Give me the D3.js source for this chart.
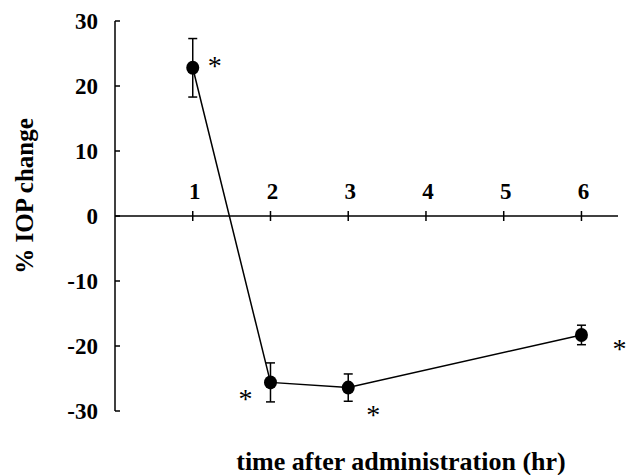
<!DOCTYPE html>
<html>
<head>
<meta charset="utf-8">
<script src="https://cdn.jsdelivr.net/npm/d3@7"></script>
</head>
<body style="margin:0">
<svg id="chart" width="626" height="475"></svg>
<script>
// Data
const hours = [1, 2, 3, 6];
const iopChange = [22.8, -25.6, -26.4, -18.3];
const errors = [4.5, 3.0, 2.1, 1.5];
const significant = [true, true, true, true];
const xTicks = [1, 2, 3, 4, 5, 6];
const yTicks = [-30, -20, -10, 0, 10, 20, 30];

const fontFamily = '"Liberation Serif"';

const svg = d3.select("#chart");

// Scales
const xScale = d3.scaleLinear().domain([0, 6.47]).range([115, 618]);
const yScale = d3.scaleLinear().domain([-30, 30]).range([411, 21]);

const y0 = yScale(0);
const x0 = xScale(0);

// Y axis line + inward ticks
svg.append("line")
  .attr("x1", x0).attr("x2", x0)
  .attr("y1", yScale(30)).attr("y2", yScale(-30))
  .attr("stroke", "#000").attr("stroke-width", 1.5);

svg.selectAll(".ytick")
  .data(yTicks)
  .enter()
  .append("line")
  .attr("x1", x0).attr("x2", x0 + 5)
  .attr("y1", (d) => yScale(d)).attr("y2", (d) => yScale(d))
  .attr("stroke", "#000").attr("stroke-width", 1.5);

svg.selectAll(".ylabel")
  .data(yTicks)
  .enter()
  .append("text")
  .attr("x", x0 - 17)
  .attr("y", (d) => yScale(d) + 8)
  .attr("text-anchor", "end")
  .style("font-family", fontFamily)
  .style("font-size", "23px")
  .style("font-weight", "bold")
  .text((d) => d);

// X axis sits at zero, ticks cross the line
svg.append("line")
  .attr("x1", x0).attr("x2", xScale(6.47))
  .attr("y1", y0).attr("y2", y0)
  .attr("stroke", "#000").attr("stroke-width", 1.5);

svg.selectAll(".xtick")
  .data(xTicks)
  .enter()
  .append("line")
  .attr("x1", (d) => xScale(d)).attr("x2", (d) => xScale(d))
  .attr("y1", y0 - 5).attr("y2", y0 + 5)
  .attr("stroke", "#000").attr("stroke-width", 1.5);

svg.selectAll(".xlabel")
  .data(xTicks)
  .enter()
  .append("text")
  .attr("x", (d) => xScale(d) + 2)
  .attr("y", y0 - 17)
  .attr("text-anchor", "middle")
  .style("font-family", fontFamily)
  .style("font-size", "23px")
  .style("font-weight", "bold")
  .text((d) => d);

// Axis titles
svg.append("text")
  .attr("x", 401)
  .attr("y", 470)
  .attr("text-anchor", "middle")
  .style("font-family", fontFamily)
  .style("font-size", "26px")
  .style("font-weight", "bold")
  .text("time after administration (hr)");

svg.append("text")
  .attr("transform", "translate(33, 196) rotate(-90)")
  .attr("text-anchor", "middle")
  .style("font-family", fontFamily)
  .style("font-size", "25px")
  .style("font-weight", "bold")
  .text("% IOP change");

// Series
const points = hours.map((h, i) => ({
  x: h,
  y: iopChange[i],
  err: errors[i],
  sig: significant[i],
}));

const line = d3.line().x((d) => xScale(d.x)).y((d) => yScale(d.y));

svg.append("path")
  .datum(points)
  .attr("d", line)
  .attr("fill", "none")
  .attr("stroke", "#000")
  .attr("stroke-width", 1.5);

// Error bars
const bars = svg.selectAll(".errbar").data(points).enter().append("g");

bars.append("line")
  .attr("x1", (d) => xScale(d.x)).attr("x2", (d) => xScale(d.x))
  .attr("y1", (d) => yScale(d.y + d.err)).attr("y2", (d) => yScale(d.y - d.err))
  .attr("stroke", "#000").attr("stroke-width", 1.5);

[1, -1].forEach((s) => {
  bars.append("line")
    .attr("x1", (d) => xScale(d.x) - 4.5).attr("x2", (d) => xScale(d.x) + 4.5)
    .attr("y1", (d) => yScale(d.y + s * d.err)).attr("y2", (d) => yScale(d.y + s * d.err))
    .attr("stroke", "#000").attr("stroke-width", 1.5);
});

svg.selectAll(".dot")
  .data(points)
  .enter()
  .append("ellipse")
  .attr("cx", (d) => xScale(d.x))
  .attr("cy", (d) => yScale(d.y))
  .attr("rx", 6.5)
  .attr("ry", 7)
  .attr("fill", "#000");

// Significance asterisks (offsets from the point, in px)
const starOffsets = [[22, -7], [-25, 12], [25, 22], [38, 9]];

svg.selectAll(".star")
  .data(points.filter((d) => d.sig))
  .enter()
  .append("text")
  .attr("x", (d, i) => xScale(d.x) + starOffsets[i][0])
  .attr("y", (d, i) => yScale(d.y) + starOffsets[i][1] + 14)
  .attr("text-anchor", "middle")
  .style("font-family", fontFamily)
  .style("font-size", "28px")
  .text("*");
</script>
</body>
</html>
